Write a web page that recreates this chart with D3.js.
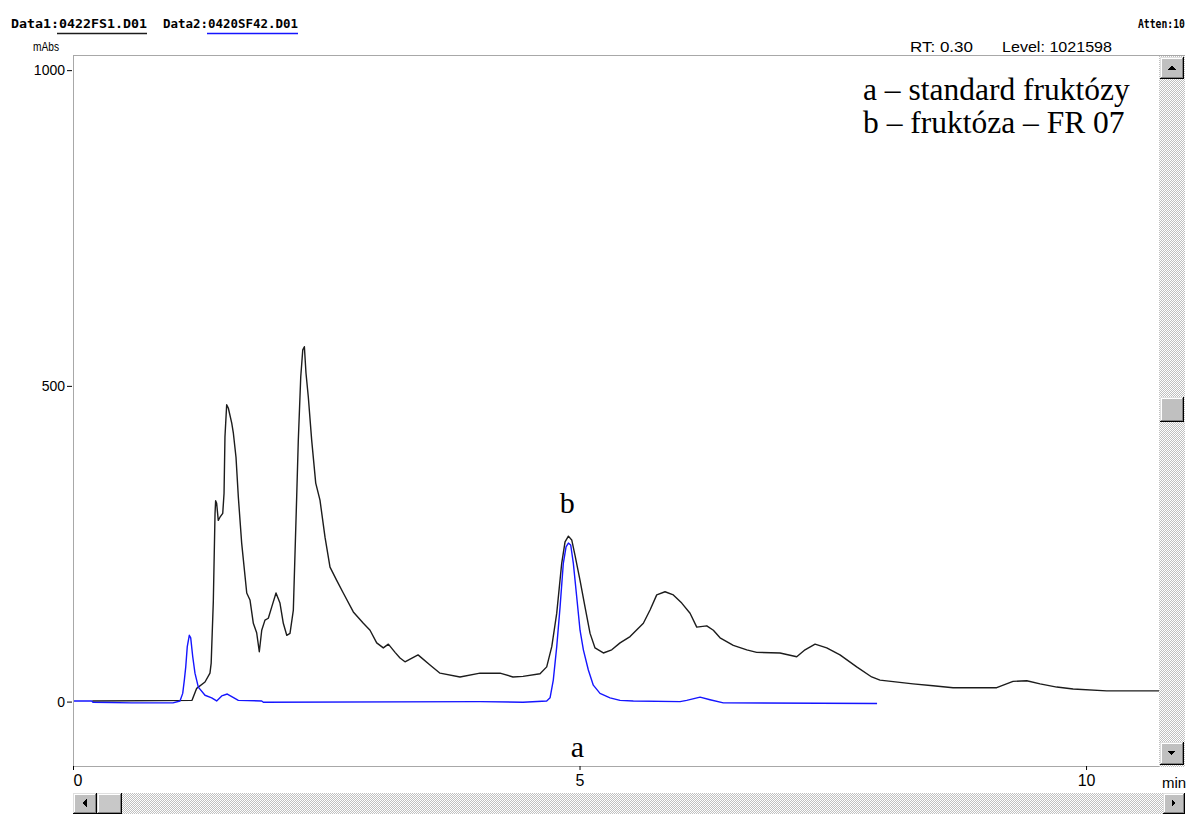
<!DOCTYPE html>
<html>
<head>
<meta charset="utf-8">
<script src="https://cdn.jsdelivr.net/npm/d3@7"></script>
<style>
  html, body { margin: 0; padding: 0; background: #fff; }
  svg { display: block; }
</style>
</head>
<body>
<svg id="chart" width="1201" height="814"></svg>
<script>
// Retention time ticks (min) and absorbance ticks (mAbs)
const timeTicks = [0, 5, 10];
const absTicks = [0, 500, 1000];

// Data1: 0422FS1.D01 — fruktóza FR 07 (black trace), [min, mAbs]
const data1 = [
  [0.19, 1], [1.175, 2], [1.221, 21], [1.303, 31], [1.352, 45], [1.364, 61],
  [1.385, 158], [1.402, 298], [1.408, 318], [1.418, 314], [1.434, 287], [1.451, 292],
  [1.478, 298], [1.491, 330], [1.500, 419], [1.517, 470], [1.533, 465], [1.567, 441],
  [1.583, 425], [1.609, 387], [1.632, 324], [1.665, 251], [1.715, 172], [1.747, 161],
  [1.780, 124], [1.813, 109], [1.839, 79], [1.863, 113], [1.895, 129], [1.928, 132],
  [1.962, 150], [2.004, 172], [2.043, 156], [2.076, 124], [2.110, 105], [2.142, 108],
  [2.175, 145], [2.208, 324], [2.224, 414], [2.248, 514], [2.268, 557], [2.284, 562],
  [2.300, 520], [2.323, 482], [2.356, 414], [2.396, 346], [2.438, 319], [2.488, 260],
  [2.537, 213], [2.603, 192], [2.668, 172], [2.767, 142], [2.866, 124], [2.932, 113],
  [2.998, 93], [3.063, 85], [3.113, 91], [3.179, 78], [3.228, 69], [3.277, 63],
  [3.406, 74], [3.524, 58], [3.623, 45], [3.820, 39], [4.018, 45], [4.215, 45],
  [4.343, 39], [4.442, 40], [4.610, 44], [4.676, 55], [4.726, 87], [4.775, 140],
  [4.824, 219], [4.857, 253], [4.890, 262], [4.923, 256], [4.955, 232], [5.005, 192],
  [5.054, 150], [5.104, 108], [5.153, 85], [5.235, 77], [5.318, 82], [5.400, 93],
  [5.499, 103], [5.630, 124], [5.696, 145], [5.762, 169], [5.844, 174], [5.926, 169],
  [6.009, 156], [6.091, 140], [6.157, 118], [6.256, 120], [6.321, 113], [6.387, 101],
  [6.518, 89], [6.651, 82], [6.749, 78], [6.979, 77], [7.144, 71], [7.226, 82],
  [7.325, 91], [7.440, 85], [7.571, 74], [7.736, 55], [7.884, 39], [7.966, 34],
  [8.292, 28], [8.490, 25], [8.687, 22], [9.118, 22], [9.279, 32], [9.415, 33],
  [9.546, 28], [9.711, 23], [9.872, 20], [10.204, 17], [10.711, 17], [10.9, 17]
];

// Data2: 0420SF42.D01 — standard fruktózy (blue trace), [min, mAbs]
const data2 = [
  [0.003, 1], [0.185, 1], [0.197, -1], [0.579, -2], [0.987, -2], [1.056, 1],
  [1.083, 13], [1.099, 34], [1.113, 55], [1.128, 87], [1.148, 105], [1.162, 101],
  [1.182, 71], [1.204, 45], [1.237, 23], [1.303, 10], [1.369, 6], [1.418, 1],
  [1.468, 9], [1.523, 12], [1.567, 8], [1.632, 2], [1.863, 1], [1.879, -1],
  [4.018, 0], [4.442, -1], [4.676, 1], [4.709, 6], [4.741, 34], [4.775, 87],
  [4.808, 150], [4.840, 219], [4.867, 245], [4.890, 251], [4.913, 248], [4.939, 219],
  [4.972, 166], [5.005, 113], [5.038, 82], [5.087, 50], [5.136, 26], [5.202, 13],
  [5.301, 6], [5.400, 2], [5.531, 1], [5.992, 0], [6.058, 2], [6.190, 7],
  [6.288, 3], [6.420, -2], [7.937, -3]
];

const legendLines = ["a \u2013 standard fruktózy", "b \u2013 fruktóza \u2013 FR 07"];
const peakLabels = [{ text: "b", t: 4.88, v: 262 }, { text: "a", t: 4.98, v: 0 }];

const svg = d3.select("#chart");
const L = 73, R = 1159, T = 55, B = 766, FRAME_R = 1185;

const x = d3.scaleLinear().domain([0, 10.72]).range([L, R]);
const y = d3.scaleLinear().domain([-102, 1024]).range([B, T]);

const defs = svg.append("defs");
defs.append("clipPath").attr("id", "plotClip")
  .append("rect").attr("x", L + 1).attr("y", T + 1).attr("width", R - L - 1).attr("height", B - T - 1);
const pat = defs.append("pattern").attr("id", "dither")
  .attr("width", 2).attr("height", 2).attr("patternUnits", "userSpaceOnUse");
pat.append("rect").attr("width", 2).attr("height", 2).attr("fill", "#ffffff");
pat.append("rect").attr("x", 1).attr("y", 0).attr("width", 1).attr("height", 1).attr("fill", "#c0c0c0");
pat.append("rect").attr("x", 0).attr("y", 1).attr("width", 1).attr("height", 1).attr("fill", "#c0c0c0");

// Plot frame
const frame = svg.append("g").attr("stroke", "#a8a8a8").attr("stroke-width", 1);
frame.append("line").attr("x1", L + 0.5).attr("x2", L + 0.5).attr("y1", T).attr("y2", B + 1);
frame.append("line").attr("x1", L).attr("x2", FRAME_R).attr("y1", T + 0.5).attr("y2", T + 0.5);
frame.append("line").attr("x1", L).attr("x2", FRAME_R).attr("y1", B + 0.5).attr("y2", B + 0.5);

// Axes
const yAxis = svg.append("g").attr("transform", `translate(${L},0)`)
  .call(d3.axisLeft(y).tickValues(absTicks).tickSize(6).tickPadding(2).tickFormat(d3.format("d")));
yAxis.select(".domain").remove();
yAxis.selectAll(".tick line").attr("x1", -1).attr("stroke", "#000");
yAxis.selectAll(".tick text").attr("font-family", "'Liberation Sans', Arial, sans-serif")
  .attr("font-size", 14).attr("fill", "#000");

const xAxis = svg.append("g").attr("transform", `translate(0,${B})`)
  .call(d3.axisBottom(x).tickValues(timeTicks).tickSize(4).tickPadding(5).tickFormat(d3.format("d")));
xAxis.select(".domain").remove();
xAxis.selectAll(".tick line").attr("stroke", "#000").attr("y1", 0);
xAxis.selectAll(".tick text").attr("font-family", "'Liberation Sans', Arial, sans-serif")
  .attr("font-size", 16).attr("fill", "#000");
xAxis.selectAll(".tick text").filter(d => d === 0).attr("text-anchor", "start");

// Traces
const line = d3.line().x(d => x(d[0])).y(d => y(d[1]));
const traces = svg.append("g").attr("clip-path", "url(#plotClip)");
traces.append("path").datum(data1).attr("d", line)
  .attr("fill", "none").attr("stroke", "#1c1c1c").attr("stroke-width", 1.4).attr("stroke-linejoin", "round");
traces.append("path").datum(data2).attr("d", line)
  .attr("fill", "none").attr("stroke", "#1515ff").attr("stroke-width", 1.4).attr("stroke-linejoin", "round");

// Header texts
const mono = "'DejaVu Sans Mono', 'Liberation Mono', monospace";
const sans = "'Liberation Sans', Arial, sans-serif";
function txt(s, px, py, opts) {
  const t = svg.append("text").attr("x", px).attr("y", py).text(s)
    .attr("font-family", opts.font).attr("font-size", opts.size).attr("fill", opts.fill || "#000");
  if (opts.len) t.attr("textLength", opts.len).attr("lengthAdjust", "spacingAndGlyphs");
  if (opts.anchor) t.attr("text-anchor", opts.anchor);
  if (opts.weight) t.attr("font-weight", opts.weight);
  return t;
}
txt("Data1:0422FS1.D01", 11, 28, { font: mono, size: 12.5, len: 136, weight: "bold" });
txt("Data2:0420SF42.D01", 163, 28, { font: mono, size: 12.5, len: 135, weight: "bold" });
svg.append("line").attr("x1", 57).attr("x2", 147).attr("y1", 33.5).attr("y2", 33.5)
  .attr("stroke", "#1c1c1c").attr("stroke-width", 1.5);
svg.append("line").attr("x1", 207).attr("x2", 298).attr("y1", 33.5).attr("y2", 33.5)
  .attr("stroke", "#1515ff").attr("stroke-width", 1.5);
txt("Atten:10", 1138, 28, { font: mono, size: 12.5, len: 47, weight: "bold" });
txt("mAbs", 33, 51, { font: sans, size: 13.5, len: 26 });
txt("RT: 0.30", 910, 52, { font: sans, size: 15, len: 63 });
txt("Level: 1021598", 1002, 52, { font: sans, size: 15, len: 110 });
txt("min", 1162, 788, { font: sans, size: 15 });

// Legend and peak labels
const serif = "'Liberation Serif', 'Times New Roman', serif";
legendLines.forEach((s, i) => txt(s, 863, 100 + i * 33, { font: serif, size: 31.5 }));
txt(peakLabels[0].text, x(peakLabels[0].t), y(peakLabels[0].v) - 23, { font: serif, size: 30, anchor: "middle" });
txt(peakLabels[1].text, x(peakLabels[1].t), y(peakLabels[1].v) + 55, { font: serif, size: 30, anchor: "middle" });

// Scrollbars (classic bevelled style)
function bevel(g, bx, by, w, h, face) {
  g.append("rect").attr("x", bx).attr("y", by).attr("width", w).attr("height", h).attr("fill", "#000");
  g.append("rect").attr("x", bx).attr("y", by).attr("width", w - 1).attr("height", h - 1).attr("fill", "#dfdfdf");
  g.append("rect").attr("x", bx + 1).attr("y", by + 1).attr("width", w - 2).attr("height", h - 2).attr("fill", "#808080");
  g.append("rect").attr("x", bx + 1).attr("y", by + 1).attr("width", w - 3).attr("height", h - 3).attr("fill", "#fff");
  g.append("rect").attr("x", bx + 2).attr("y", by + 2).attr("width", w - 4).attr("height", h - 4).attr("fill", face || "#c0c0c0");
}
function arrowBtn(g, bx, by, w, h, dir) {
  bevel(g, bx, by, w, h);
  const cx = bx + w / 2 - 0.5, cy = by + h / 2 - 0.5, s = 4;
  let pts;
  if (dir === "up") pts = [[cx - s, cy + 2], [cx + s, cy + 2], [cx, cy - 2]];
  if (dir === "down") pts = [[cx - s, cy - 2], [cx + s, cy - 2], [cx, cy + 2]];
  if (dir === "left") pts = [[cx + 2, cy - s], [cx + 2, cy + s], [cx - 2, cy]];
  if (dir === "right") pts = [[cx - 2, cy - s], [cx - 2, cy + s], [cx + 2, cy]];
  g.append("polygon").attr("points", pts.map(p => p.join(",")).join(" ")).attr("fill", "#000");
}
const sb = svg.append("g").attr("shape-rendering", "crispEdges");
sb.append("rect").attr("x", R).attr("y", T + 1).attr("width", FRAME_R - R).attr("height", B - T).attr("fill", "url(#dither)");
arrowBtn(sb, R + 1, T + 2, 24, 22, "up");
bevel(sb, R + 1, 397, 24, 25);
arrowBtn(sb, R + 1, B - 24, 24, 23, "down");

sb.append("rect").attr("x", L).attr("y", 793).attr("width", FRAME_R - L).attr("height", 21).attr("fill", "url(#dither)");
arrowBtn(sb, L, 793, 24, 21, "left");
bevel(sb, L + 24, 793, 25, 21, "#c8c8c8");
arrowBtn(sb, FRAME_R - 22, 793, 22, 21, "right");
</script>
</body>
</html>
